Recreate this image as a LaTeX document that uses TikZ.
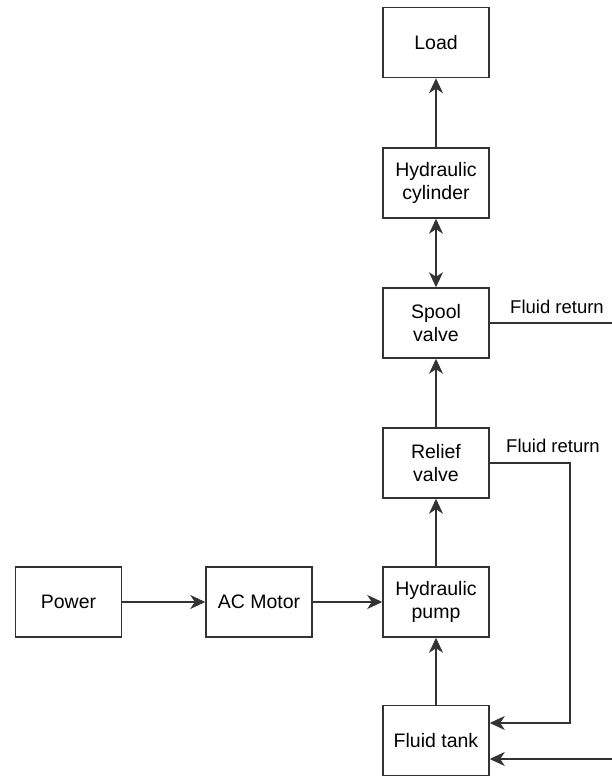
\documentclass[tikz,border=0pt]{standalone}
\usepackage{fontspec}
\setmainfont{Liberation Sans}
\usetikzlibrary{arrows.meta}
\begin{document}
\begin{tikzpicture}[x=1pt,y=1pt,
  blk/.style={draw=black!80,line width=1.5pt,fill=white,minimum width=106pt,minimum height=70pt,inner sep=0pt,align=center,font=\fontsize{19.5}{23.5}\selectfont},
  conn/.style={draw=black!80,line width=1.5pt,-{Stealth[length=15pt,width=14pt,inset=4.5pt]}},
  biconn/.style={draw=black!80,line width=1.5pt,{Stealth[length=15pt,width=14pt,inset=4.5pt]}-{Stealth[length=15pt,width=14pt,inset=4.5pt]}},
  line/.style={draw=black!80,line width=1.5pt},
  lbl/.style={anchor=west,inner sep=0pt,font=\fontsize{18.5}{22}\selectfont}]
\useasboundingbox (0,0) rectangle (612,776);
\node[blk] (load) at (436,733.5) {Load};
\node[blk] (cyl) at (436,593) {Hydraulic\\cylinder};
\node[blk] (spool) at (436,453) {Spool\\valve};
\node[blk] (relief) at (436,313) {Relief\\valve};
\node[blk] (pump) at (436,174) {Hydraulic\\pump};
\node[blk] (tank) at (436,35.5) {Fluid tank};
\node[blk] (power) at (68.5,174) {Power};
\node[blk] (motor) at (259,174) {AC Motor};
\coordinate (sret) at (612,453);
\coordinate (rcorner) at (570,313);
\coordinate (bret) at (612,17);
\node[lbl] (l1) at (510,469) {Fluid return};
\node[lbl] (l2) at (506,330) {Fluid return};
\draw[conn] (power) -- (motor);
\draw[conn] (motor) -- (pump);
\draw[conn] (pump) -- (relief);
\draw[conn] (relief) -- (spool);
\draw[biconn] (spool) -- (cyl);
\draw[conn] (cyl) -- (load);
\draw[conn] (tank) -- (pump);
\draw[line] (spool.east) -- (sret);
\draw[conn] (relief.east) -- (rcorner) |- ([yshift=17.5pt]tank.east);
\draw[conn] (bret) -- ([yshift=-18.5pt]tank.east);
\end{tikzpicture}
\end{document}
